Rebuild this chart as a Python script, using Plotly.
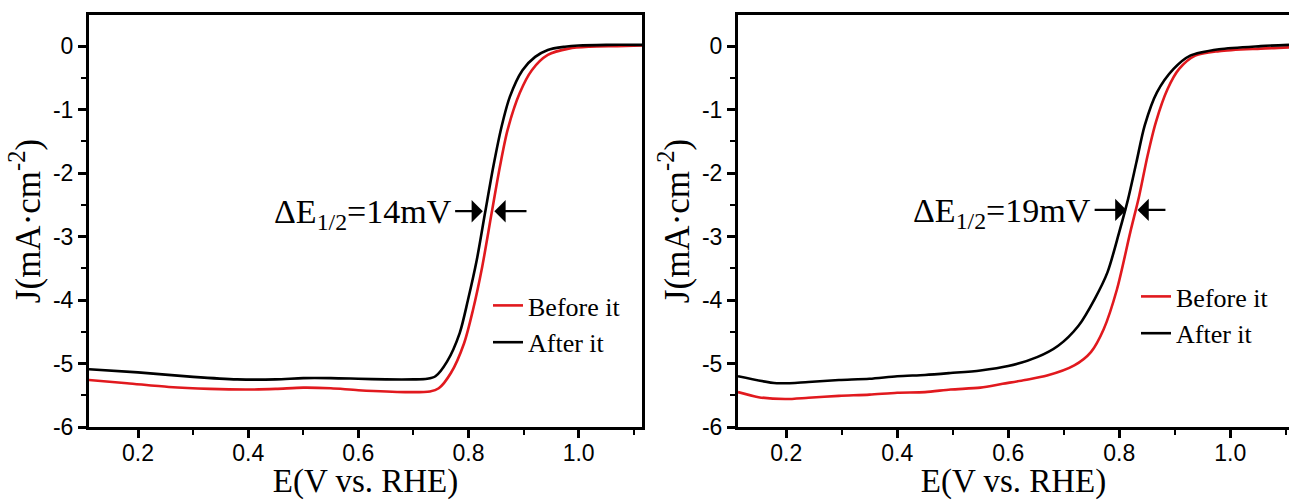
import plotly.graph_objects as go

# ---------------- data ----------------
left_after_E = [0.111, 0.2, 0.3, 0.38, 0.45, 0.5, 0.55, 0.6, 0.65, 0.7, 0.725, 0.74, 0.761, 0.784,
                0.799, 0.815, 0.83, 0.845, 0.86, 0.875, 0.898, 0.921, 0.944, 0.975, 1.0, 1.05, 1.116]
left_after_J = [-5.09, -5.14, -5.21, -5.25, -5.25, -5.23, -5.23, -5.24, -5.25, -5.25, -5.24, -5.2, -4.97, -4.52,
                -4.0, -3.37, -2.63, -1.9, -1.27, -0.8, -0.38, -0.17, -0.06, -0.01, 0.01, 0.02, 0.02]

left_before_E = [0.111, 0.18, 0.256, 0.33, 0.4, 0.45, 0.5, 0.55, 0.6, 0.685, 0.73, 0.746, 0.768, 0.792,
                 0.808, 0.825, 0.842, 0.857, 0.871, 0.893, 0.915, 0.944, 0.982, 1.02, 1.07, 1.116]
left_before_J = [-5.26, -5.31, -5.37, -5.4, -5.41, -5.4, -5.38, -5.39, -5.42, -5.45, -5.44, -5.39, -5.15, -4.68,
                 -4.16, -3.47, -2.63, -1.9, -1.32, -0.74, -0.38, -0.14, -0.04, -0.01, 0.0, 0.01]

right_after_E = [0.113, 0.183, 0.24, 0.295, 0.35, 0.4, 0.45, 0.496, 0.55, 0.6, 0.652, 0.69, 0.727, 0.756,
                 0.779, 0.8, 0.816, 0.831, 0.846, 0.868, 0.898, 0.928, 0.98, 1.055, 1.106]
right_after_J = [-5.2, -5.31, -5.29, -5.26, -5.24, -5.2, -5.18, -5.15, -5.11, -5.04, -4.9, -4.72, -4.4, -3.98,
                 -3.56, -2.93, -2.41, -1.83, -1.25, -0.73, -0.36, -0.15, -0.05, 0.0, 0.02]

right_before_E = [0.113, 0.15, 0.198, 0.24, 0.295, 0.35, 0.4, 0.45, 0.496, 0.55, 0.59, 0.63, 0.67, 0.719,
                  0.749, 0.772, 0.796, 0.82, 0.836, 0.851, 0.866, 0.887, 0.908, 0.937, 0.98, 1.055, 1.106]
right_before_J = [-5.45, -5.53, -5.56, -5.54, -5.51, -5.49, -5.46, -5.45, -5.41, -5.38, -5.32, -5.26, -5.19, -5.03,
                  -4.82, -4.46, -3.83, -2.93, -2.36, -1.73, -1.2, -0.68, -0.36, -0.15, -0.08, -0.04, -0.02]

series_names = ["Before it", "After it"]
delta_labels = ["14mV", "19mV"]
# arrow geometry in data units: (text end / left tail, left head, right tail, right head, J level)
left_arrows = [0.773, 0.826, 0.908, 0.847, -2.6]
right_arrows = [0.753, 0.813, 0.886, 0.833, -2.58]

x_tickvals = [0.2, 0.4, 0.6, 0.8, 1.0]
x_ticktext = ["0.2", "0.4", "0.6", "0.8", "1.0"]
y_tickvals = [0, -1, -2, -3, -4, -5, -6]
y_ticktext = ["0", "-1", "-2", "-3", "-4", "-5", "-6"]

RED = "#e1191e"
BLACK = "#000000"
SERIF = "Liberation Serif, Times New Roman, serif"
SANS = "Liberation Sans, Arial, sans-serif"

fig = go.Figure()

# left panel
fig.add_trace(go.Scatter(x=left_before_E, y=left_before_J, mode="lines", name=series_names[0],
                         line=dict(color=RED, width=2.6, shape="spline", smoothing=0.8),
                         xaxis="x", yaxis="y", legend="legend", legendgroup="a"))
fig.add_trace(go.Scatter(x=left_after_E, y=left_after_J, mode="lines", name=series_names[1],
                         line=dict(color=BLACK, width=2.6, shape="spline", smoothing=0.8),
                         xaxis="x", yaxis="y", legend="legend", legendgroup="b"))
# right panel
fig.add_trace(go.Scatter(x=right_before_E, y=right_before_J, mode="lines", name=series_names[0],
                         line=dict(color=RED, width=2.6, shape="spline", smoothing=0.8),
                         xaxis="x2", yaxis="y2", legend="legend2", legendgroup="c"))
fig.add_trace(go.Scatter(x=right_after_E, y=right_after_J, mode="lines", name=series_names[1],
                         line=dict(color=BLACK, width=2.6, shape="spline", smoothing=0.8),
                         xaxis="x2", yaxis="y2", legend="legend2", legendgroup="d"))

W, H = 1289, 500
ydom = [1 - 427 / H, 1 - 15 / H]


def xaxis_cfg(dom, rng, anchor, mirror):
    return dict(domain=dom, range=rng, anchor=anchor, showgrid=False, zeroline=False, automargin=False,
                showline=True, linecolor="black", linewidth=3, mirror=mirror,
                ticks="outside", ticklen=8, tickwidth=2.5, tickcolor="black",
                tickvals=x_tickvals, ticktext=x_ticktext, ticklabelstandoff=-5,
                minor=dict(dtick=0.1, tick0=0, ticks="outside", ticklen=5, tickwidth=2, tickcolor="black"),
                tickfont=dict(family=SANS, size=23, color="black"),
                title=dict(text="E(V vs. RHE)", font=dict(family=SERIF, size=33, color="black"), standoff=6))


def yaxis_cfg(dom, anchor, mirror):
    return dict(domain=dom, range=[-6, 0.49], anchor=anchor, showgrid=False, zeroline=False, automargin=False,
                showline=True, linecolor="black", linewidth=3, mirror=mirror,
                ticks="outside", ticklen=8, tickwidth=2.5, tickcolor="black",
                tickvals=y_tickvals, ticktext=y_ticktext,
                minor=dict(dtick=0.5, tick0=0, ticks="outside", ticklen=5, tickwidth=2, tickcolor="black"),
                tickfont=dict(family=SANS, size=23, color="black"),
                title=dict(text="J(mA·cm<sup>-2</sup>)", font=dict(family=SERIF, size=35, color="black"),
                           standoff=2))


annotations = []
for (xr, yr, arr, lab) in [("x", "y", left_arrows, delta_labels[0]),
                           ("x2", "y2", right_arrows, delta_labels[1])]:
    t_end, h1, t2, h2, jy = arr
    annotations.append(dict(xref=xr, yref=yr, x=t_end, y=jy, xanchor="right", yanchor="middle",
                            text="ΔE<sub>1/2</sub>=" + lab, showarrow=False,
                            font=dict(family=SERIF, size=34, color="black"), yshift=-3))
    annotations.append(dict(xref=xr, yref=yr, axref=xr, ayref=yr, x=h1, y=jy, ax=t_end, ay=jy,
                            text="", showarrow=True, arrowhead=1, arrowsize=1.7, arrowwidth=2.2,
                            arrowcolor="black"))
    annotations.append(dict(xref=xr, yref=yr, axref=xr, ayref=yr, x=h2, y=jy, ax=t2, ay=jy,
                            text="", showarrow=True, arrowhead=1, arrowsize=1.7, arrowwidth=2.2,
                            arrowcolor="black"))

legend_font = dict(family=SERIF, size=26, color="black")

fig.update_layout(
    width=W, height=H,
    margin=dict(l=0, r=0, t=0, b=0, autoexpand=False),
    paper_bgcolor="white", plot_bgcolor="white",
    xaxis=xaxis_cfg([89 / W, 642 / W], [0.111, 1.115], "y", True),
    yaxis=yaxis_cfg(ydom, "x", True),
    xaxis2=xaxis_cfg([738 / W, 1.0], [0.113, 1.106], "y2", True),
    yaxis2=yaxis_cfg(ydom, "x2", False),
    legend=dict(x=488 / W, y=1 - 282 / H, xanchor="left", yanchor="top", font=legend_font,
                bgcolor="rgba(0,0,0,0)", tracegroupgap=4, traceorder="normal"),
    legend2=dict(x=1136 / W, y=1 - 273 / H, xanchor="left", yanchor="top", font=legend_font,
                 bgcolor="rgba(0,0,0,0)", tracegroupgap=4, traceorder="normal"),
    annotations=annotations,
    showlegend=True,
)

# remove the default 8px page margin so the figure sits at the window's top-left corner
fig.write_html("out.html", config={"displayModeBar": False},
               post_script="document.body.style.margin='0';document.body.style.overflow='hidden';")
